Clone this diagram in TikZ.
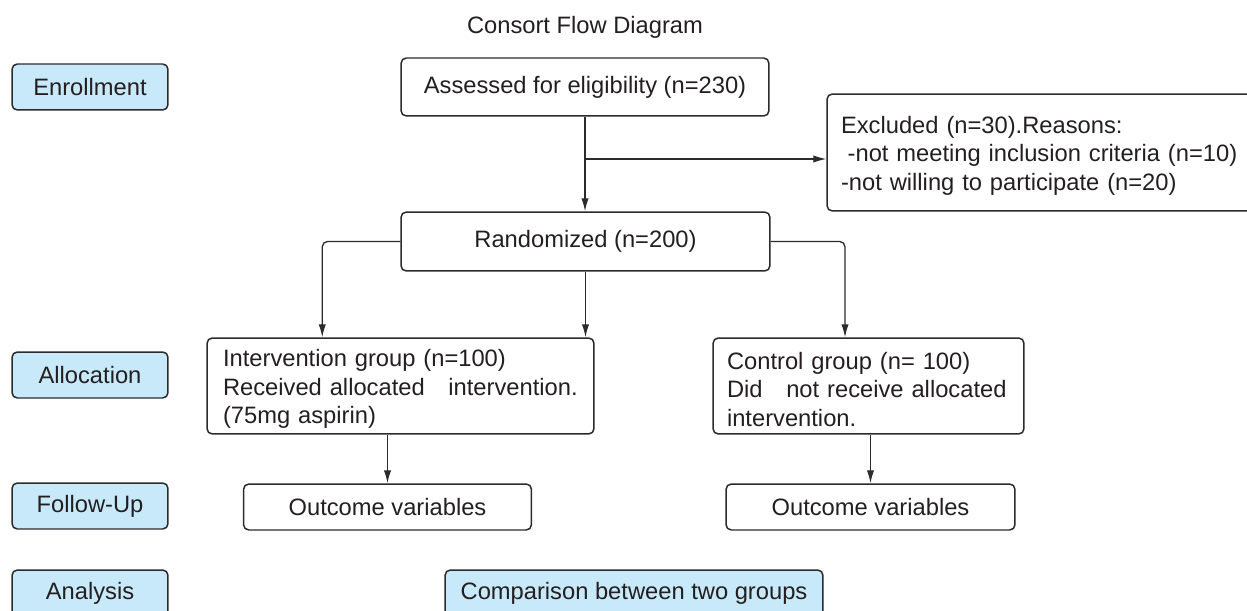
\documentclass[tikz,border=0pt]{standalone}
\usepackage{fontspec}
\setmainfont{Liberation Sans}
\usetikzlibrary{arrows.meta}
\definecolor{phaseblue}{HTML}{C8E9F9}
\definecolor{linegray}{HTML}{2B2B2B}
\definecolor{textgray}{HTML}{231F20}

\begin{document}
\begin{tikzpicture}[x=0.02cm, y=-0.02cm,
    every node/.style={font=\fontsize{13.5}{16.2}\selectfont, text=textgray},
    box/.style={draw=linegray, line width=0.85pt, rounded corners=3pt},
    phase/.style={box, fill=phaseblue, minimum width=3.12cm, minimum height=0.92cm},
    textbox/.style={box, align=left, inner ysep=0pt, execute at begin node={\rule{0pt}{1em}}},
    arr/.style={draw=linegray, line width=0.75pt, rounded corners=3pt, -{Latex[length=7.4pt,width=4.2pt]}}]
    \useasboundingbox (0,0) rectangle (1247,611);

    \node (title) at (585,27) {Consort Flow Diagram};

    \node [phase] (enroll) at (90,87) {Enrollment};
    \node [phase] (alloc) at (90,375) {Allocation};
    \node [phase] (follow) at (90,506) {Follow-Up};
    \node [phase] (analysis) at (90,593) {Analysis};

    \node [box, minimum width=7.36cm, minimum height=1.16cm] (assess) at (585,87) {Assessed for eligibility (n=230)};
    \node [textbox, text width=8.14cm, inner xsep=0.28cm, minimum height=2.34cm] (excl) at (1044.5,152.5)
        {Excluded (n=30).Reasons:\\ \hspace*{0.28em}-not meeting inclusion criteria (n=10)\\ -not willing to participate (n=20)};
    \node [box, minimum width=7.38cm, minimum height=1.18cm] (rand) at (585.5,241.5) {Randomized (n=200)};

    \node [textbox, text width=7.1cm, inner xsep=0.32cm, minimum height=1.92cm] (interv) at (400.5,386)
        {Intervention group (n=100)\\ Received allocated\ \ \ intervention.\\ (75mg aspirin)};
    \node [textbox, text width=5.66cm, inner xsep=0.28cm, minimum height=1.92cm] (ctrl) at (868.5,386)
        {Control group (n=\ 100)\\ Did\ \ \ not receive allocated\\ intervention.};

    \node [box, minimum width=5.76cm, minimum height=0.92cm] (out1) at (387.5,507) {Outcome variables};
    \node [box, minimum width=5.78cm, minimum height=0.92cm] (out2) at (870.5,507) {Outcome variables};

    \node [box, fill=phaseblue, minimum width=7.56cm, minimum height=0.92cm] (compare) at (634,593) {Comparison between two groups};

    \coordinate (split) at (585,159);
    \draw [arr] (assess.south) -- (assess.south |- rand.north);
    \draw [arr] (split) -- (split -| excl.west);
    \draw [arr] (rand.west) -| ([xshift=2.32cm]interv.north west);
    \draw [arr] (rand.south) -- (rand.south |- interv.north);
    \draw [arr] (rand.east) -| ([xshift=-0.47cm]ctrl.north);
    \draw [arr] (out1.north |- interv.south) -- (out1.north);
    \draw [arr] (out2.north |- ctrl.south) -- (out2.north);
\end{tikzpicture}
\end{document}
